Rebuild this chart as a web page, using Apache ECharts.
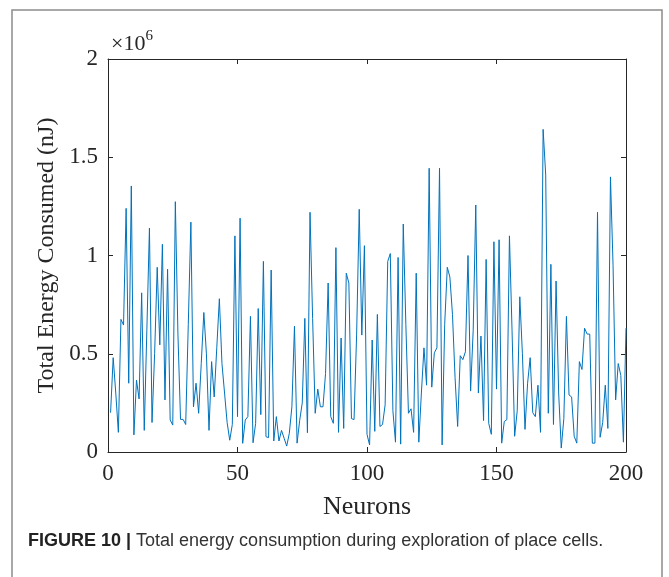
<!DOCTYPE html>
<html>
<head>
<meta charset="utf-8">
<script src="https://cdn.jsdelivr.net/npm/echarts@6/dist/echarts.min.js"></script>
<style>
html,body{margin:0;padding:0;background:#fff;}
#c{width:669px;height:577px;}
</style>
</head>
<body>
<div id="c"></div>
<script>
// Total energy consumed per neuron, in units of 10^6 nJ (neurons 1..200)
const energy = [
0.20,0.48,0.30,0.10,0.675,0.646,1.24,0.35,1.354,0.087,
0.366,0.27,0.81,0.11,0.62,1.14,0.15,0.50,0.94,0.545,
1.057,0.265,0.93,0.163,0.137,1.274,0.60,0.166,0.166,0.14,
0.65,1.17,0.23,0.35,0.197,0.45,0.71,0.50,0.11,0.46,
0.28,0.53,0.78,0.45,0.30,0.15,0.06,0.14,1.10,0.18,
1.19,0.044,0.163,0.18,0.69,0.047,0.146,0.73,0.19,0.97,
0.078,0.073,0.926,0.056,0.18,0.056,0.11,0.07,0.03,0.095,
0.23,0.64,0.045,0.16,0.25,0.68,0.098,1.22,0.68,0.197,
0.32,0.23,0.23,0.40,0.86,0.18,0.146,1.04,0.10,0.58,
0.12,0.91,0.86,0.17,0.165,0.60,1.235,0.595,1.05,0.09,
0.036,0.57,0.105,0.70,0.13,0.14,0.24,0.97,1.01,0.21,
0.05,0.99,0.04,1.16,0.65,0.197,0.22,0.10,0.91,0.05,
0.30,0.53,0.34,1.444,0.33,0.505,0.53,1.444,0.036,0.65,
0.94,0.89,0.70,0.38,0.13,0.49,0.47,0.51,1.00,0.31,
0.62,1.257,0.30,0.59,0.16,0.98,0.146,0.09,1.07,0.32,
1.08,0.045,0.155,0.165,1.10,0.62,0.08,0.21,0.79,0.50,
0.115,0.35,0.48,0.20,0.18,0.34,0.10,1.642,1.41,0.197,
0.955,0.14,0.87,0.30,0.02,0.17,0.69,0.29,0.28,0.08,
0.045,0.46,0.42,0.63,0.60,0.60,0.045,0.045,1.22,0.075,
0.15,0.34,0.12,1.40,0.95,0.265,0.45,0.39,0.05,0.63
];
const xTicks = [0, 50, 100, 150, 200];
const yTicks = [0, 0.5, 1, 1.5, 2];
const xTitle = 'Neurons';
const yTitle = 'Total Energy Consumed (nJ)';
const caption = ['FIGURE 10 | ', 'Total energy consumption during exploration of place cells.'];

const points = energy.map((v, i) => [i + 1, v]);

const serif = 'Liberation Serif';
const axisCol = '#262626';
const chart = echarts.init(document.getElementById('c'), null, {renderer: 'canvas'});

const baseX = {
  type: 'value', min: xTicks[0], max: xTicks[xTicks.length - 1], interval: 50,
  axisLine: {show: true, onZero: false, lineStyle: {color: axisCol, width: 1}},
  axisTick: {show: true, inside: true, length: 5, lineStyle: {color: axisCol}},
  splitLine: {show: false}
};
const baseY = {
  type: 'value', min: yTicks[0], max: yTicks[yTicks.length - 1], interval: 0.5,
  axisLine: {show: true, onZero: false, lineStyle: {color: axisCol, width: 1}},
  axisTick: {show: true, inside: true, length: 5, lineStyle: {color: axisCol}},
  splitLine: {show: false}
};

chart.setOption({
  animation: false,
  backgroundColor: '#fff',
  grid: {left: 108, right: 43, top: 59, bottom: 125, containLabel: false},
  xAxis: [
    Object.assign({}, baseX, {
      position: 'bottom',
      name: xTitle, nameLocation: 'middle', nameGap: 42,
      nameTextStyle: {fontFamily: serif, fontSize: 26, color: axisCol},
      axisLabel: {fontFamily: serif, fontSize: 23, color: axisCol, margin: 10}
    }),
    Object.assign({}, baseX, {position: 'top', axisLabel: {show: false}})
  ],
  yAxis: [
    Object.assign({}, baseY, {
      position: 'left',
      name: yTitle, nameLocation: 'middle', nameGap: 46, nameRotate: 90,
      nameTextStyle: {fontFamily: serif, fontSize: 24, color: axisCol},
      axisLabel: {fontFamily: serif, fontSize: 23, color: axisCol, margin: 10,
        formatter: v => String(v)}
    }),
    Object.assign({}, baseY, {position: 'right', axisLabel: {show: false}})
  ],
  series: [{
    type: 'line', data: points, xAxisIndex: 0, yAxisIndex: 0,
    showSymbol: false, symbol: 'none',
    lineStyle: {color: '#0072BD', width: 1},
    silent: true
  }],
  graphic: [
    {type: 'rect', shape: {x: 12, y: 10, width: 650, height: 580},
     style: {fill: 'none', stroke: '#8c8c8c', lineWidth: 1.5}, silent: true},
    {type: 'text', x: 111, y: 42,
     style: {
       text: '{a|×10}{b|6}',
       rich: {
         a: {fontFamily: serif, fontSize: 22, fill: axisCol, verticalAlign: 'bottom'},
         b: {fontFamily: serif, fontSize: 15, fill: axisCol, verticalAlign: 'top', padding: [0,0,12,0]}
       },
       verticalAlign: 'middle'
     }},
    {type: 'text', x: 28, y: 541,
     style: {
       text: '{b|' + caption[0] + '}{r|' + caption[1] + '}',
       rich: {
         b: {fontFamily: 'Liberation Sans', fontWeight: 'bold', fontSize: 18, fill: '#222'},
         r: {fontFamily: 'Liberation Sans', fontSize: 18, fill: '#333'}
       },
       verticalAlign: 'middle'
     }}
  ]
});
</script>
</body>
</html>
